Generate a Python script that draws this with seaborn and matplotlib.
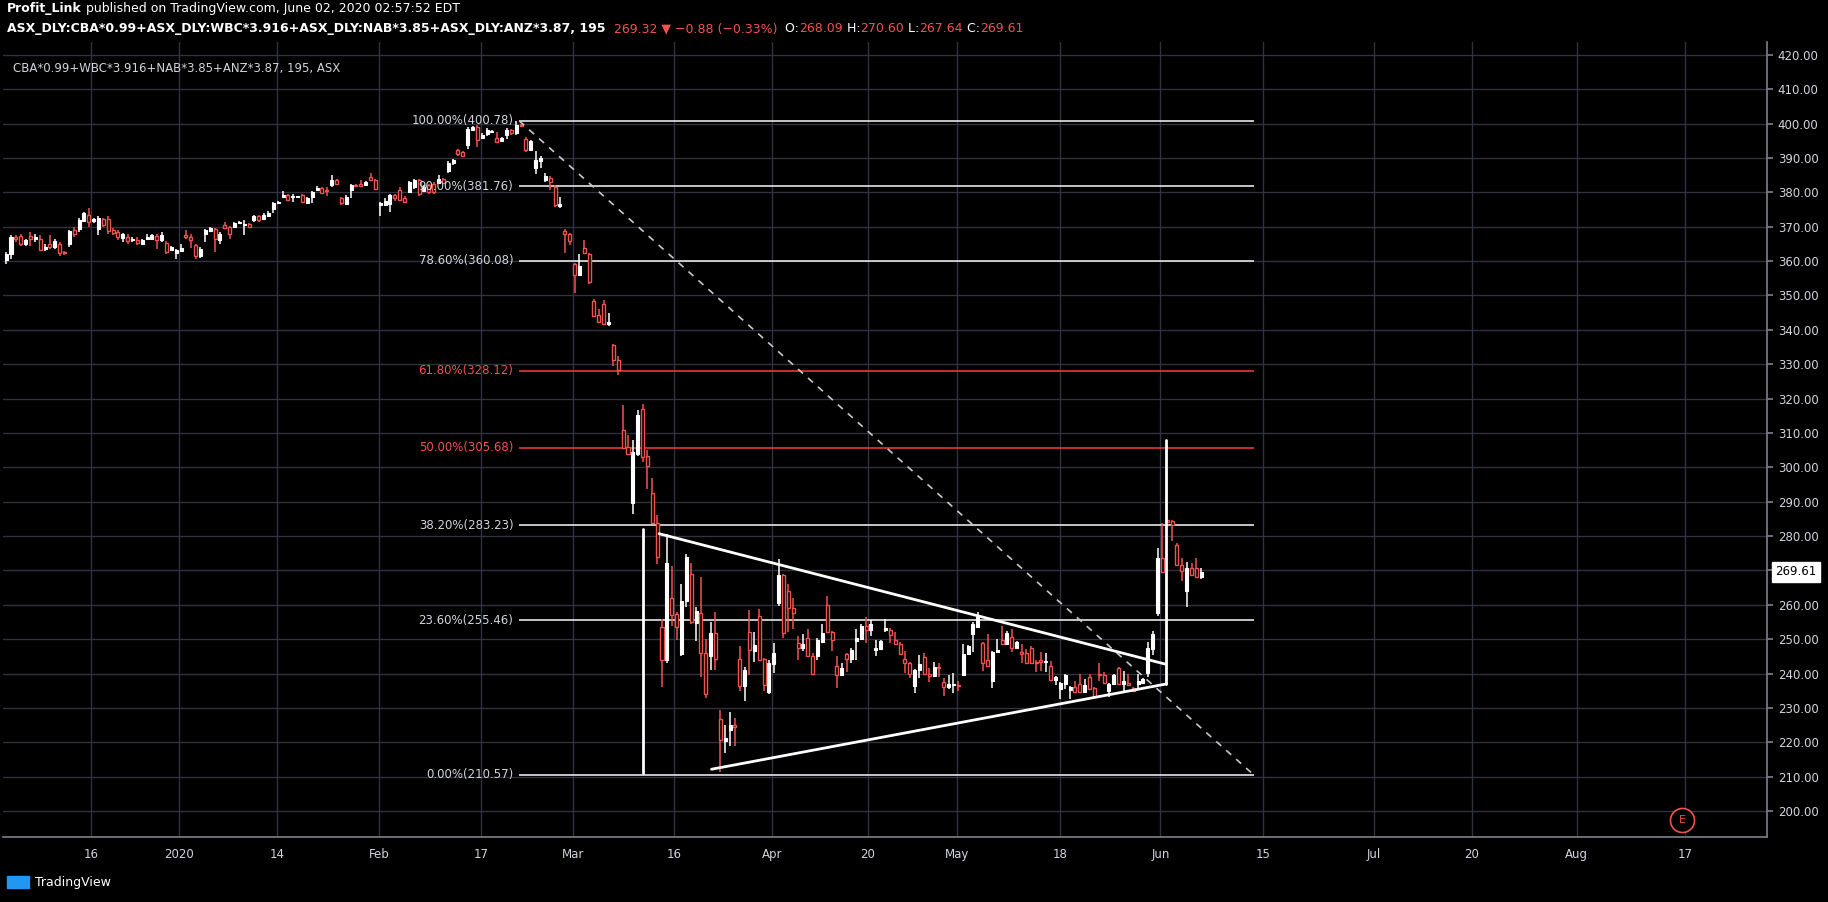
import numpy as np
import pandas as pd
import matplotlib
matplotlib.use("Agg")
import matplotlib.pyplot as plt
import seaborn as sns

# ---------------- data (195-minute bars, Dec 2019 - Jun 2020) ----------------
OPEN = [360.2,362.1,367,367.3,365,367.2,366.4,366.5,363.5,365.1,364.1,364.9,362.5,364.9,368.9,369.4,371.7,373.3,371.7,369.4,
        372.3,372.3,368.9,368.4,366.8,367,366.2,366.2,365,366.4,366.5,367.3,366,365.2,363.3,362.3,363,367.7,367,364.6,
        361.4,367.8,368.8,369.4,366,370.6,369.9,369.9,371.1,370.4,370.7,371.8,373.1,372.3,373.1,375.2,376.9,378.6,379.1,378.6,
        378.6,379.1,376.9,378.5,380.8,381.3,380.8,382,383.7,378.2,376.7,380.8,382.2,382.3,382.1,384.5,383.5,376.2,376.2,376.7,
        379.3,380.6,378.4,380.1,381.6,383.7,380.4,382,382.5,382.7,384,386.1,388.5,392.2,391.7,393.7,398.1,399,395.8,396.9,
        397.6,395.8,395,396.8,398.1,397.3,399.7,395.6,392.2,387.2,389.1,383.5,384.3,381.6,375.9,368.8,368,359,356,363.7,
        362,348.5,344.4,347.6,341.6,335.7,331.3,310.9,305.8,289.6,304,316.9,303.3,292.5,283.8,253.7,244,262,257.4,245.7,
        261,269,254.8,257.5,246,245,251.7,226.7,220.5,223.5,225,244.4,236.5,252,246.7,256.8,244.2,234.7,242.7,260.6,
        268.6,264,259,248.8,247.6,250.5,245,245,249.2,259.9,252.2,242.2,239.7,245.6,244.4,249.5,250.2,253.8,252.8,246.9,
        247.3,252.8,252.8,249.9,248.7,244.4,243,236.4,241,244.7,240,239.3,241.8,237.5,236.2,236.6,236.6,239.7,245.6,251.5,
        253.7,248.8,244,237.9,246.2,249.8,248.6,250.6,247.6,246.4,245.9,247.6,243.4,243.9,243.4,242.3,238.1,235.4,236.9,235.2,
        236.1,237.1,234.7,238.9,235.7,239.7,239.6,235,237.1,241.5,236.9,237.3,235.9,236.9,237.4,240.3,247.2,257.6,273.6,284.6,
        284.5,277.4,271.6,264,270.6,270.6,268.09]
CLOSE = [362,367,366.4,365,366,366.4,367,363.3,364.1,364.1,365.8,362.3,362.2,368.7,367.8,371.8,374,371.4,372.2,372.5,
         370.4,368.7,368.2,367,368,365.8,366.4,365.2,366,367,367.5,366,367.7,362.6,364.1,363.1,363.8,367,366.2,361.4,
         363.6,368.9,369.6,366.5,367.8,369.7,367.8,371.1,371.5,370.9,369.9,373.2,372,373.5,374,377,377.2,379.3,377.7,378.8,
         378.8,377.2,378.4,380,381.3,379.9,380.4,383.7,382.3,376.9,378.6,382.2,381.8,381.9,383,383.5,381.1,376.9,377.4,379.1,
         378.2,377.7,377.2,383,383.5,379.6,381.6,380.1,380.1,384,382.7,388.5,389.3,391.1,390.5,398.5,399,395.1,396.8,398.1,
         397.9,394.7,395.9,398.1,397.1,399.7,399.2,392.2,395,389.3,390,384.7,383,376.2,376.6,368,365.7,356,358.7,362.3,
         353.8,344,342.3,341.6,342.3,331.3,328.3,305.6,303.8,304.5,315.2,303.1,300.5,283.8,274,244,272.2,257.1,253.7,261,
         273.9,255,258.2,246,234.2,251.7,244.4,220.6,221.2,225,224.4,236.4,241,246.8,248.3,244.1,236.8,243,245.9,268.6,
         251.7,259,257.5,247.6,248.5,245.1,240,249.7,251.7,252.2,249.7,239.7,241.5,244.2,247,250.3,253.8,252.8,254.4,247.5,
         249.5,253,251.3,248.7,245.6,243,240,241,242.9,239.8,239.3,241.8,241.6,236.2,237.1,236.7,236.4,245.6,248,254.5,
         256.4,243,242.3,246.4,246.9,248.6,251.9,247.6,249.3,245.7,243,243.1,243,243.4,243.6,238.1,239,237.4,239.5,236.1,
         234.6,234.6,236.7,235.4,233.2,239.6,237.4,237,239.6,236.9,237.9,236.8,234.9,237.9,238.4,247.6,251.4,273.6,269.6,284,
         283.3,271.6,269.8,270.6,268.7,268,269.61]
HIGH = [362.5,367.5,367.5,368,366.5,368.5,367.8,367.5,365,367.5,366.5,365.5,363,369,369.8,372.5,374.3,375.5,372.5,373,
        372.5,373,369.5,369,368.3,368,367,367,366.3,368,368,367.8,368.5,365.8,364.5,363.5,365,369,368,365,
        364,369.3,370,369.6,368.5,371.5,370.2,371.3,371.7,372,371,373.5,373.5,374,374.5,377.3,377.5,380.5,379.5,379.5,
        379,379.5,378.7,380.4,381.8,381.5,381.5,385,384,378.6,379.2,382.4,382.4,383.5,383.3,385.5,383.8,377.3,378.2,379.5,
        379.5,381.4,378.8,383.4,384,384,382,382.5,383,385,384.3,389,389.7,392.5,392,398.9,399.4,399.6,397.2,398.6,
        398.2,397.4,396.2,398.6,398.4,400.78,400,396,395.3,392,390.5,385.5,384.7,382,378.5,369.3,368.3,359.4,362,366,
        362.3,349,346.2,348.6,345,335.9,332.4,318,309.5,308,316.8,318.5,305,297,286,256,280.7,271.3,258,266,
        274.8,272.2,259.5,268,250,255,258,229.5,225,228.7,227,248,242,258.6,252,258.8,244.5,244,249,273.4,
        269,266,262,251,251.5,253,246,250.5,254.5,262.7,252.5,245,243,246,247.4,253,254.5,256.5,255.5,249.7,
        249.9,256,253.2,252,249.2,246.6,243.3,241.4,245.4,246,241.5,243.3,243,238.8,239.6,240.2,238,248.6,248.3,254.9,
        258,249.1,251.6,246.7,250,253.8,252.5,253,249.6,248.5,247.2,247.9,244,246.4,246,243.6,239.3,237.7,239.8,236.4,
        238,240,238.4,240,236,243.1,240.5,237.3,239.9,242,240.7,239.8,236.2,240,238.7,249.3,252.3,276.5,283.7,285,
        284.8,278,273.5,272.6,272.3,273.7,270.6]
LOW = [359,360.5,365.5,364.5,364.5,364.5,365.5,363,363,363.5,363.5,361.5,361.8,364,367,368.5,371.5,370,371.2,367.5,
       370,368,367.5,366,365.5,365,365.5,364.8,364.6,366,366.3,363.5,365.5,362,362.8,360.5,362.5,366.5,363.8,360.5,
       361,365.5,368.5,362.5,365,369.5,366.5,369.5,370.9,367.5,369.6,371.3,371.5,371.9,372.8,374,376.6,378.5,377.4,377.2,
       378.4,376.8,376.5,377,380.5,379.4,378.8,381.5,382,376.3,376.4,378.4,381.6,381.6,381.9,383.3,380.8,373,376,374.2,
       377.5,377.4,377,379.8,381,379,380,379.5,379.4,382.3,382.4,385.7,388,390.5,390.2,392.5,397.7,393.3,395.4,396.5,
       397.2,394.2,394.7,395.4,396.8,396.8,398.9,391.8,391.9,385.3,387,383,380.6,375.8,375.5,362.3,364.8,350.6,355.8,362,
       353.3,343.6,342,341.3,341,329.6,327,305.4,303.5,286.5,303.2,301.5,293.6,283.5,272,236,243,254,249.8,245,
       259.5,254.5,249.5,239,233,241,241,211.3,217,219,219,235,232,239.5,243.5,243.8,235,234.2,240.2,259.8,
       250.5,252,253,244,246.5,244.7,239.6,244,248.9,251.8,246.5,235.7,239.4,240.5,243,244,249.9,249,251,245,
       247,252,249,248.4,245.3,240.3,238.6,234.5,238.6,239.5,237.7,239,238.9,233.6,235.6,234.5,235,239.4,245.3,246.4,
       253.4,240.8,242,235.7,245.9,248.3,248.3,246.4,247.3,243,242.7,242.8,240.6,240.9,240.4,237.8,236.6,232.7,235.5,232.7,
       234.3,234.3,234.4,235.1,232.9,237.9,237.1,233.3,236.8,236.6,235,236.5,234.6,235.5,237,239,245.5,256.8,269.3,283.5,
       278.5,271.3,267,259.5,268.4,267.7,267.64]

TICK_LABELS = ["16", "2020", "14", "Feb", "17", "Mar", "16", "Apr", "20", "May", "18", "Jun",
               "15", "Jul", "20", "Aug", "17"]
TICK_POS = [17.5, 35.5, 55.7, 76.8, 97.7, 116.6, 137.5, 157.7, 177.3, 195.8, 216.9, 237.6,
            258.7, 281.5, 301.7, 323.3, 345.6]
PRICE_TICKS = list(range(200, 421, 10))

FIB_PCT = ["100.00%", "90.00%", "78.60%", "61.80%", "50.00%", "38.20%", "23.60%", "0.00%"]
FIB_LEVEL = [400.78, 381.76, 360.08, 328.12, 305.68, 283.23, 255.46, 210.57]
FIB_X = [105.6, 256.8]

# hand-drawn trend lines (bar index, price)
DIAG_X, DIAG_Y = [105.6, 256.8], [400.78, 210.57]
UPPER_X, UPPER_Y = [134.4, 238.8], [280.7, 242.7]
LOWER_X, LOWER_Y = [145.2, 238.8], [212.2, 237.0]
VERT1_X, VERT1_Y = [238.8, 238.8], [237.0, 308.0]
VERT2_X, VERT2_Y = [131.0, 131.0], [282.0, 211.0]
LAST_PRICE = 269.61

# ---------------- figure ----------------
sns.set_theme(style="dark", rc={"axes.facecolor": "black", "figure.facecolor": "black"})
W, H = 1828, 902
fig = plt.figure(figsize=(W / 100, H / 100), dpi=100, facecolor="black")
ax = fig.add_axes([0.0015, 0.0721, 0.965, 0.8813], facecolor="black")

RED = "#ef5350"
FIBRED = "#e53935"
GRID = "#2f3341"
TXT = "#d1d4dc"

n = len(CLOSE)
x = np.arange(n)
o, c, h, l = map(np.array, (OPEN, CLOSE, HIGH, LOW))
up = c >= o
ax.vlines(x[up], l[up], h[up], color="white", lw=1.1, zorder=3)
ax.vlines(x[~up], l[~up], h[~up], color=RED, lw=1.1, zorder=3)
bot = np.minimum(o, c)
hgt = np.maximum(np.abs(c - o), 0.35)
ax.bar(x[up], hgt[up], bottom=bot[up], width=0.62, color="white", edgecolor="white", lw=0.8, zorder=4)
ax.bar(x[~up], hgt[~up], bottom=bot[~up], width=0.62, color="black", edgecolor=RED, lw=1.0, zorder=4)

# fib levels
for pct, lev in zip(FIB_PCT, FIB_LEVEL):
    col = FIBRED if pct in ("61.80%", "50.00%") else "#e6e6e6"
    ax.hlines(lev, FIB_X[0], FIB_X[1], color=col, lw=1.2, zorder=2)
    ax.text(FIB_X[0] - 1.2, lev, f"{pct}({lev:.2f})", color=(RED if col == FIBRED else TXT),
            ha="right", va="center", fontsize=8.5, zorder=5)

line_df = pd.DataFrame({"x": DIAG_X, "y": DIAG_Y})
sns.lineplot(data=line_df, x="x", y="y", ax=ax, color="#c8c8c8", lw=1.2, linestyle=(0, (4, 4)), zorder=5)
for xs, ys in [(UPPER_X, UPPER_Y), (LOWER_X, LOWER_Y), (VERT1_X, VERT1_Y), (VERT2_X, VERT2_Y)]:
    sns.lineplot(x=xs, y=ys, ax=ax, color="white", lw=2, zorder=5, sort=False, estimator=None)

ax.set_xlim(-0.7, 362.4)
ax.set_ylim(192.5, 423.7)
ax.set_xticks(TICK_POS)
ax.set_xticklabels(TICK_LABELS)
ax.set_yticks(PRICE_TICKS)
ax.set_yticklabels([f"{v:.2f}" for v in PRICE_TICKS])
ax.yaxis.tick_right()
ax.tick_params(axis="y", colors=TXT, labelsize=8.5, length=4, color="#787b86", pad=4)
ax.tick_params(axis="x", colors=TXT, labelsize=8.5, length=0, pad=8)
ax.grid(True, color=GRID, lw=1)
ax.set_xlabel("")
ax.set_ylabel("")
for s in ["top", "left"]:
    ax.spines[s].set_visible(False)
ax.spines["right"].set_color("#787b86")
ax.spines["bottom"].set_color("#787b86")

# last price tag
ax.annotate(f"{LAST_PRICE:.2f}", xy=(1.0, LAST_PRICE), xycoords=("axes fraction", "data"),
            xytext=(6, 0), textcoords="offset points", ha="left", va="center", fontsize=8.5,
            color="black", bbox=dict(boxstyle="square,pad=0.3", fc="white", ec="white"), zorder=10,
            annotation_clip=False)

# earnings marker
ax.scatter([345], [197.3], s=300, facecolor="black", edgecolor=RED, lw=1.2, zorder=6)
ax.text(345, 197.3, "E", color=RED, ha="center", va="center", fontsize=8, zorder=7)

# legend text in pane
ax.text(0.006, 0.975, "CBA*0.99+WBC*3.916+NAB*3.85+ANZ*3.87, 195, ASX", transform=ax.transAxes,
        color=TXT, fontsize=8.5, ha="left", va="top")

# header lines
t1 = fig.text(0.004, 1 - 12 / H, "Profit_Link", color="white", fontsize=9, fontweight="bold", va="baseline")
fig.canvas.draw()
ax.annotate(" published on TradingView.com, June 02, 2020 02:57:52 EDT", xy=(1, 0), xycoords=t1,
            color="white", fontsize=9, va="bottom", annotation_clip=False)
t2 = fig.text(0.004, 1 - 32 / H,
              "ASX_DLY:CBA*0.99+ASX_DLY:WBC*3.916+ASX_DLY:NAB*3.85+ASX_DLY:ANZ*3.87, 195",
              color="white", fontsize=9, fontweight="bold", va="baseline")
prev = t2
pieces = [("  269.32 \u25bc \u22120.88 (\u22120.33%)", RED), ("  O:", "white"), ("268.09", RED),
          (" H:", "white"), ("270.60", RED), (" L:", "white"), ("267.64", RED), (" C:", "white"), ("269.61", RED)]
for s, col in pieces:
    prev = ax.annotate(s, xy=(1, 0), xycoords=prev, color=col, fontsize=9, va="bottom",
                       annotation_clip=False)

# footer
fig.text(0.019, 0.022, "TradingView", color="white", fontsize=9, va="center")
fig.patches.append(plt.Rectangle((0.004, 0.015), 0.012, 0.014, transform=fig.transFigure,
                                 color="#2196f3", figure=fig))

fig.savefig("out.png", dpi=100, facecolor="black")
